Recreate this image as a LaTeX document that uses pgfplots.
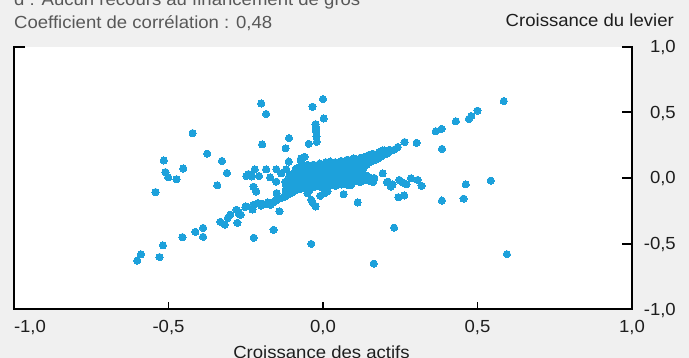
\documentclass[border=0pt]{standalone}
\usepackage{pgfplots}
\pgfplotsset{compat=1.18}
\usepackage{fontspec}
\setmainfont{Liberation Sans}[FakeStretch=1.06]
\definecolor{bg}{HTML}{F0F0F0}
\definecolor{dot}{HTML}{1DA1DB}
\definecolor{tgrey}{HTML}{585858}
\definecolor{tdark}{HTML}{1E1E1E}
\pgfplotstableread{
x y
-0.200 0.568
-0.184 0.488
-0.034 0.543
0.000 0.601
0.002 0.453
-0.024 0.410
-0.023 0.390
-0.023 0.372
-0.022 0.352
-0.021 0.315
-0.020 0.275
-0.422 0.342
-0.197 0.256
-0.110 0.304
-0.121 0.226
-0.046 0.260
-0.375 0.185
-0.515 0.134
-0.327 0.130
-0.452 0.072
-0.510 0.045
-0.501 0.006
-0.474 -0.009
-0.311 0.038
-0.342 -0.056
-0.542 -0.107
-0.111 0.125
-0.072 0.131
-0.071 0.149
-0.060 0.161
-0.248 0.015
-0.241 0.030
-0.230 0.012
-0.221 0.066
-0.207 0.015
-0.184 0.066
-0.171 0.005
-0.151 -0.028
-0.151 0.066
-0.135 0.035
-0.119 0.066
-0.225 -0.066
-0.216 -0.103
-0.150 -0.115
-0.141 -0.254
-0.160 -0.395
-0.224 -0.455
-0.038 -0.502
0.164 -0.652
0.230 -0.378
0.595 -0.580
0.067 -0.123
0.112 -0.186
-0.038 -0.166
-0.033 -0.191
-0.024 -0.217
-0.009 -0.136
0.193 0.035
0.207 -0.033
0.210 -0.028
0.220 -0.065
0.225 -0.050
0.247 -0.015
0.255 -0.030
0.263 -0.040
0.270 -0.048
0.285 -0.002
0.306 -0.015
0.319 -0.060
0.244 -0.146
0.263 -0.133
0.145 -0.015
0.161 -0.015
0.166 0.000
0.148 0.008
0.162 -0.030
0.385 -0.172
0.455 -0.157
0.462 -0.048
0.543 -0.020
0.385 0.222
0.303 0.268
0.264 0.274
0.242 0.236
0.365 0.356
0.384 0.374
0.430 0.432
0.472 0.449
0.480 0.472
0.500 0.513
0.585 0.586
0.220 0.210
0.230 0.215
0.193 0.211
0.183 0.174
-0.601 -0.629
-0.589 -0.581
-0.529 -0.602
-0.518 -0.513
-0.455 -0.450
-0.413 -0.410
-0.388 -0.380
-0.388 -0.448
-0.332 -0.334
-0.318 -0.355
-0.308 -0.304
-0.300 -0.279
-0.277 -0.342
-0.280 -0.242
-0.272 -0.262
-0.272 -0.275
-0.266 -0.280
-0.251 -0.221
-0.250 -0.216
-0.228 -0.240
-0.225 -0.204
-0.211 -0.191
-0.200 -0.210
-0.195 -0.196
-0.185 -0.200
-0.178 -0.186
-0.170 -0.205
-0.162 -0.186
-0.151 -0.171
-0.135 -0.153
-0.123 -0.141
-0.114 -0.128
-0.100 -0.111
-0.087 -0.091
-0.076 -0.070
-0.063 -0.060
-0.052 -0.045
-0.041 -0.028
-0.050 -0.115
-0.045 -0.100
0.005 -0.115
0.015 -0.100
0.077 -0.050
0.090 -0.055
0.120 -0.030
-0.120 -0.110
-0.120 -0.085
-0.118 -0.060
-0.122 -0.030
-0.110 -0.100
-0.112 -0.078
-0.108 -0.050
-0.110 -0.020
-0.109 0.012
-0.100 -0.092
-0.101 -0.068
-0.098 -0.040
-0.102 -0.010
-0.100 0.030
-0.090 -0.088
-0.091 -0.060
-0.089 -0.030
-0.092 0.002
-0.090 0.041
-0.088 0.070
-0.080 -0.085
-0.081 -0.052
-0.079 -0.020
-0.082 0.010
-0.080 0.050
-0.078 0.082
-0.070 -0.080
-0.071 -0.055
-0.069 -0.030
-0.072 0.000
-0.070 0.030
-0.068 0.060
-0.071 0.092
-0.060 -0.070
-0.061 -0.040
-0.059 -0.010
-0.062 0.020
-0.060 0.050
-0.058 0.080
-0.050 -0.075
-0.051 -0.050
-0.049 -0.020
-0.052 0.010
-0.050 0.040
-0.048 0.070
-0.051 0.100
-0.040 -0.060
-0.041 -0.030
-0.039 0.000
-0.042 0.030
-0.040 0.060
-0.038 0.092
-0.030 -0.070
-0.031 -0.045
-0.029 -0.015
-0.032 0.015
-0.030 0.045
-0.028 0.075
-0.031 0.102
-0.020 -0.060
-0.021 -0.030
-0.019 0.000
-0.022 0.030
-0.020 0.060
-0.018 0.090
-0.010 -0.065
-0.011 -0.040
-0.009 -0.010
-0.012 0.020
-0.010 0.050
-0.008 0.080
-0.011 0.110
0.000 -0.070
-0.001 -0.045
0.001 -0.020
-0.002 0.010
0.000 0.040
0.002 0.070
-0.001 0.100
0.010 -0.060
0.009 -0.030
0.011 0.000
0.008 0.030
0.010 0.060
0.012 0.090
0.009 0.120
0.020 -0.055
0.019 -0.025
0.021 0.005
0.018 0.035
0.020 0.065
0.022 0.095
0.023 0.125
0.030 -0.050
0.029 -0.020
0.031 0.010
0.028 0.040
0.030 0.070
0.032 0.100
0.040 -0.060
0.039 -0.030
0.041 0.000
0.038 0.030
0.040 0.060
0.042 0.090
0.039 0.120
0.050 -0.045
0.049 -0.015
0.051 0.015
0.048 0.045
0.050 0.075
0.052 0.105
0.060 -0.050
0.059 -0.020
0.061 0.010
0.058 0.040
0.060 0.070
0.062 0.100
0.059 0.130
0.070 -0.040
0.069 -0.010
0.071 0.020
0.068 0.050
0.070 0.080
0.072 0.110
0.080 -0.035
0.079 -0.005
0.081 0.025
0.078 0.055
0.080 0.085
0.082 0.115
0.079 0.140
0.090 -0.030
0.089 0.000
0.091 0.030
0.088 0.060
0.090 0.090
0.092 0.120
0.100 -0.025
0.099 0.005
0.101 0.035
0.098 0.065
0.100 0.095
0.102 0.125
0.099 0.150
0.110 -0.020
0.109 0.020
0.111 0.050
0.108 0.080
0.110 0.110
0.112 0.140
0.120 -0.015
0.119 0.015
0.121 0.060
0.118 0.100
0.120 0.130
0.122 0.155
0.130 -0.020
0.129 0.030
0.131 0.080
0.128 0.120
0.130 0.150
0.140 -0.010
0.139 0.020
0.141 0.100
0.138 0.135
0.140 0.165
0.150 -0.020
0.149 0.120
0.151 0.150
0.148 0.175
0.160 0.130
0.159 0.160
0.161 0.185
0.170 0.140
0.169 0.175
0.180 0.150
0.179 0.180
0.181 0.195
0.190 0.165
0.191 0.200
0.200 0.180
0.199 0.210
0.210 0.190
0.215 0.215
}\datatable
\begin{document}
\fontsize{17.5pt}{21pt}\selectfont
\begin{tikzpicture}[x=1pt,y=1pt]
\path[use as bounding box] (0,0) rectangle (689,358);
\clip (0,0) rectangle (689,358);
\fill[bg] (0,0) rectangle (689,358);
\node[anchor=base west, inner sep=0pt, text=tgrey] at (14,352.3) {d : Aucun recours au financement de gros};
\node[anchor=base west, inner sep=0pt, text=tgrey] at (14,329.7) {Coefficient de corrélation : 0,48};
\node[anchor=base east, inner sep=0pt, text=tdark] at (674,331.3) {Croissance du levier};
\node[anchor=base, inner sep=0pt, text=tdark] at (321.5,-0.3) {Croissance des actifs};
\begin{axis}[
  at={(14pt,48.7pt)}, anchor=south west,
  scale only axis, width=618pt, height=262.6pt,
  xmin=-1, xmax=1, ymin=-1, ymax=1,
  clip=false,
  axis line style={draw=none},
  axis background/.style={fill=white},
  major tick length=0pt,
  xtick={-1,-0.5,0,0.5,1},
  xticklabels={{\rlap{-1,0}},{-0,5},{0,0},{0,5},{1,0}},
  ytick={-1,-0.5,0,0.5,1},
  yticklabels={{-1,0},{-0,5},{0,0},{0,5},{1,0}},
  yticklabel pos=right,
  xticklabel style={anchor=base, inner sep=0pt, yshift=-23.7pt, text=tdark},
  yticklabel style={anchor=base east, inner sep=0pt, xshift=44pt, yshift=-6pt, text=tdark},
]
\addplot[only marks, mark=*, mark size=3.6pt, color=dot, draw=dot, fill=dot, mark options={draw=dot, fill=dot, line width=0pt}] table[x=x, y=y] {\datatable};
\draw[black, line width=1.8pt, line join=miter]
  ([xshift=11pt]rel axis cs:0,1) -- (rel axis cs:0,1) -- (rel axis cs:0,0)
  -- (rel axis cs:1,0) -- (rel axis cs:1,1) -- ([xshift=-10pt]rel axis cs:1,1);
\draw[black, line width=1.8pt] (axis cs:1,0.5) -- ([xshift=-10pt]axis cs:1,0.5);
\draw[black, line width=1.8pt] (axis cs:1,0) -- ([xshift=-10pt]axis cs:1,0);
\draw[black, line width=1.8pt] (axis cs:1,-0.5) -- ([xshift=-10pt]axis cs:1,-0.5);
\draw[black, line width=1.8pt] (axis cs:-0.5,-1) -- ([yshift=7pt]axis cs:-0.5,-1);
\draw[black, line width=1.8pt] (axis cs:0,-1) -- ([yshift=7pt]axis cs:0,-1);
\draw[black, line width=1.8pt] (axis cs:0.5,-1) -- ([yshift=7pt]axis cs:0.5,-1);
\end{axis}
\end{tikzpicture}
\end{document}
